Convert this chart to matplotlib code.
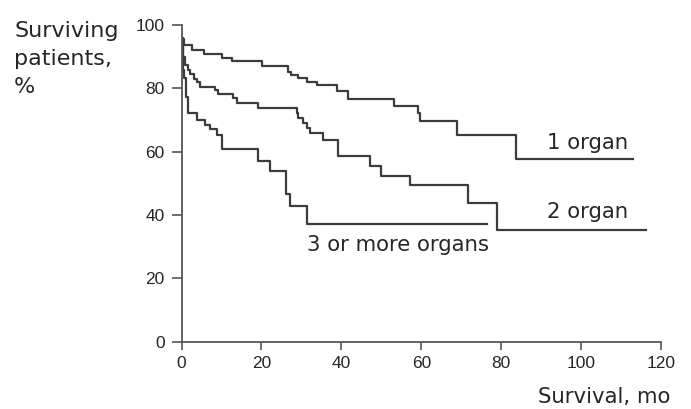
import matplotlib
matplotlib.use('Agg')
import matplotlib.pyplot as plt

# ********** Survival curves (months, % surviving) **********
one_t = [0, 0.5, 2.5, 5.5, 10.1, 12.6, 20.1, 26.7, 27.3, 29.2, 31.3, 33.8,
         38.8, 41.7, 53.2, 59.3, 59.7, 69.0, 83.7]
one_s = [95.5, 93.7, 92.1, 90.8, 89.5, 88.5, 87.2, 85.3, 84.2, 83.2, 82.1, 80.9,
         79.3, 76.6, 74.5, 72.3, 69.6, 65.2, 57.7]
one_end = 112.9

two_t = [0, 0.4, 0.8, 1.5, 2.2, 3.0, 3.8, 4.5, 8.4, 9.2, 13.0, 13.8, 19.2,
         28.8, 29.2, 30.5, 31.3, 32.2, 35.5, 39.2, 47.2, 49.8, 57.2, 71.8, 79.0]
two_s = [96, 90, 87.4, 85.8, 84.4, 83.1, 81.9, 80.5, 79.5, 78.3, 76.9, 75.5, 73.8,
         72.2, 70.6, 69.1, 67.5, 65.9, 63.8, 58.5, 55.6, 52.3, 49.5, 43.7, 35.3]
two_end = 116.2

three_t = [0, 0.4, 0.7, 1.0, 1.5, 3.8, 5.9, 7.1, 8.8, 10.1, 19.2, 22.1, 26.1,
           27.1, 31.3]
three_s = [96, 85.8, 83.2, 77.4, 72.3, 70.1, 68.5, 67.2, 65.4, 61.0, 57.0, 53.8,
           46.5, 42.8, 37.3]
three_end = 76.4

curve_labels = ['1 organ', '2 organ', '3 or more organs']
label_pos = [(91.4, 60.7), (91.4, 39.0), (31.3, 28.6)]
x_ticks = [0, 20, 40, 60, 80, 100, 120]
y_ticks = [0, 20, 40, 60, 80, 100]
# ***********************************************************

LINE = '#3c3c3c'
AXIS = '#555555'
TEXT = '#262626'


def main():
    fig = plt.figure(figsize=(6.91, 4.09), dpi=100)
    ax = fig.add_axes([0.2627, 0.1645, 0.6939, 0.7744])

    for t, s, end in [(one_t, one_s, one_end),
                      (two_t, two_s, two_end),
                      (three_t, three_s, three_end)]:
        ax.step(t + [end], s + [s[-1]], where='post', color=LINE, lw=1.6)

    for text, (x, y) in zip(curve_labels, label_pos):
        ax.text(x, y, text, fontsize=15.3, color=TEXT, va='baseline', ha='left')

    ax.set_xlim(0, 120)
    ax.set_ylim(0, 100)
    ax.set_xticks(x_ticks)
    ax.set_yticks(y_ticks)
    ax.tick_params(colors=AXIS, labelcolor=TEXT, labelsize=12.5,
                   width=1.2, length=6)
    ax.tick_params(axis='y', length=7, pad=5)
    ax.tick_params(axis='x', pad=4)
    for lbl in ax.get_xticklabels() + ax.get_yticklabels():
        lbl.set_family('Liberation Sans')
    for side in ['top', 'right']:
        ax.spines[side].set_visible(False)
    for side in ['left', 'bottom']:
        ax.spines[side].set_color(AXIS)
        ax.spines[side].set_linewidth(1.3)

    # y-axis title, three lines at the top-left corner
    for line, py in zip(['Surviving', 'patients,', '%'], [36.7, 65.0, 92.7]):
        fig.text(14 / 691, 1 - py / 409, line, fontsize=16, color=TEXT,
                 va='baseline', ha='left')
    fig.text(670 / 691, 1 - 403.3 / 409, 'Survival, mo', fontsize=15.3,
             color=TEXT, va='baseline', ha='right')

    fig.savefig('out.png', dpi=100)


if __name__ == '__main__':
    main()
